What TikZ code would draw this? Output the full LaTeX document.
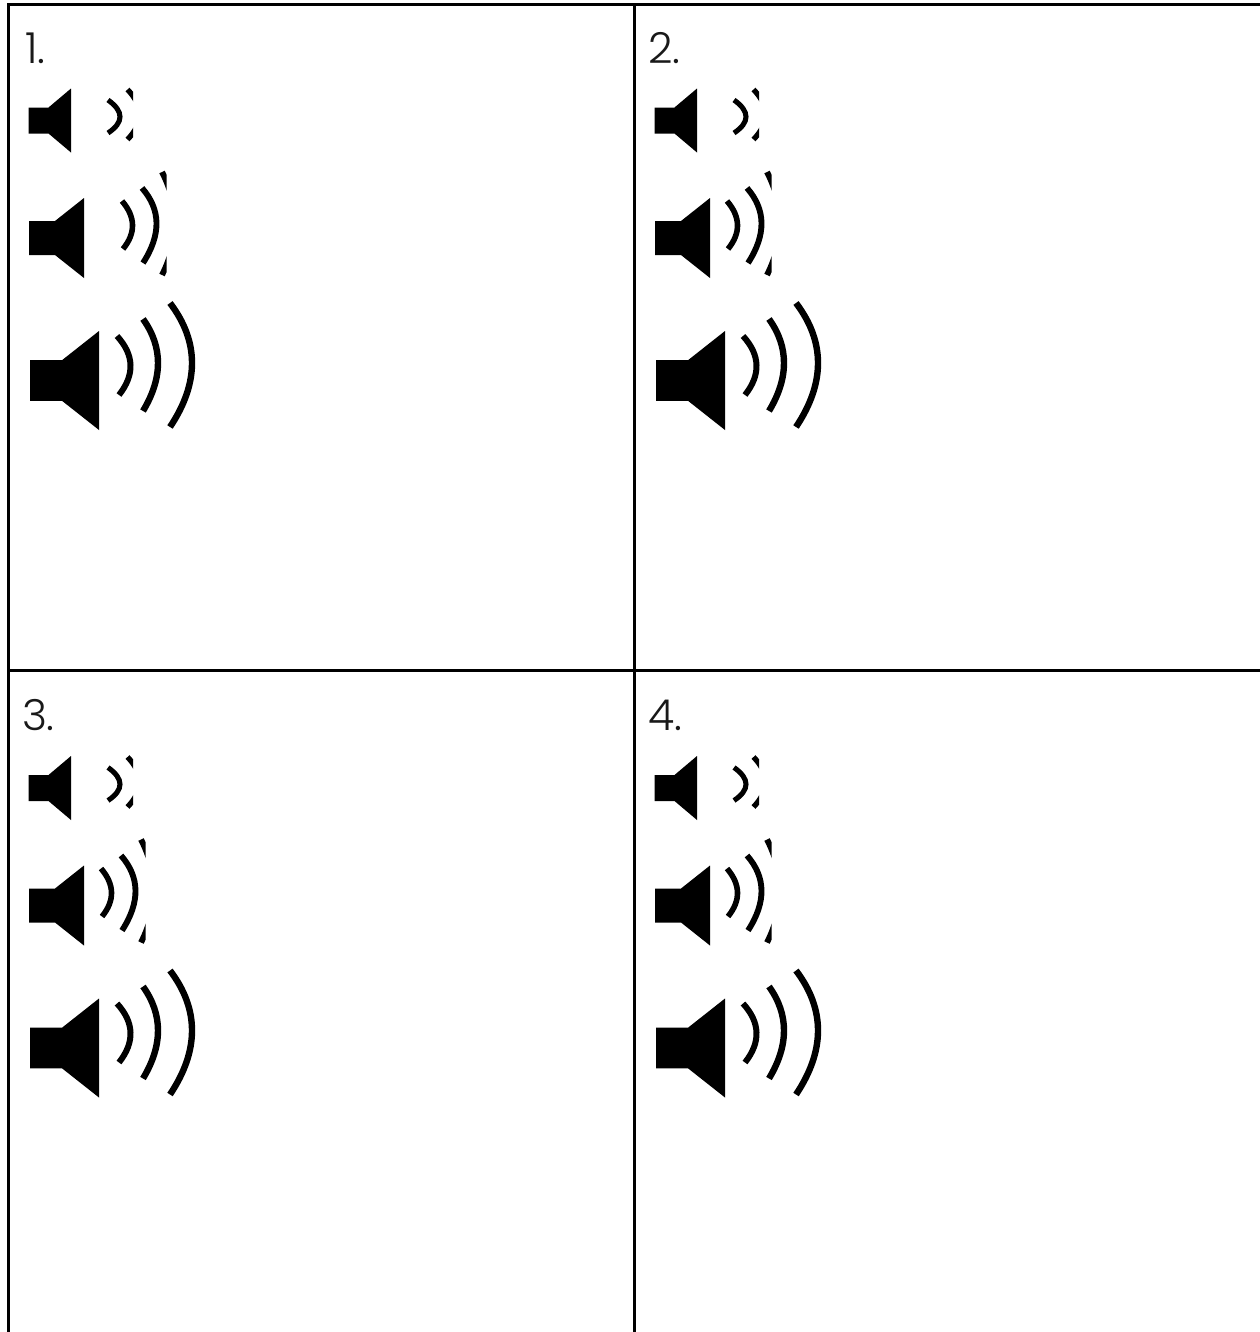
\documentclass[tikz,border=0pt]{standalone}
\usepackage{fontspec}
\usetikzlibrary{calc}
\setmainfont{Poppins}[UprightFont=* Light]
\tikzset{
  px/.style={x=0.75pt,y=-0.75pt},
  gridline/.style={draw=black,line width=2.25pt},
  cone/.style={fill=black,draw=none},
  wave/.style={draw=black,line cap=butt},
  lbl/.style={anchor=base west,inner sep=0pt,outer sep=0pt,font=\fontsize{32}{34}\selectfont,text=black!90}
}
% quadratic curve from A over control C to B, as a cubic
\def\wv(#1)(#2)(#3){(#1) .. controls ($(#1)!0.6667!(#2)$) and ($(#3)!0.6667!(#2)$) .. (#3)}
% small speaker
\newcommand{\spksmall}[2]{%
  \begin{scope}[shift={(#1,#2)}]
    \fill[cone] (0,-13)--(20,-13)--(42.5,-32)--(42.5,32)--(20,13)--(0,13)--cycle;
    \draw[wave,line width=3.8pt] \wv(79.5,-20.5)(103.5,-3.5)(79.5,12.5);
    \begin{scope}
      \clip (90,-40) rectangle (104.5,40);
      \draw[wave,line width=4pt] \wv(99,-31)(123,-6)(99,19);
    \end{scope}
  \end{scope}}
% medium speaker: #3 = horizontal shift of the waves
\newcommand{\spkmedium}[3]{%
  \begin{scope}[shift={(#1,#2)}]
    \fill[cone] (0,-17)--(26,-17)--(55,-40)--(55,40)--(26,17)--(0,17)--cycle;
    \begin{scope}[shift={(#3,0)}]
      \draw[wave,line width=4.2pt] \wv(93,-37)(113.5,-13)(94,11);
      \draw[wave,line width=4.4pt] \wv(113,-50)(141.5,-17.5)(114,25);
      \begin{scope}
        \clip (120,-80) rectangle (137.5,60);
        \draw[wave,line width=4.4pt] \wv(133,-66)(159,-15)(133,37);
      \end{scope}
    \end{scope}
  \end{scope}}
% large speaker
\newcommand{\spklarge}[2]{%
  \begin{scope}[shift={(#1,#2)}]
    \fill[cone] (0,-20.3)--(32,-20.3)--(69,-49.5)--(69,49.5)--(32,20.3)--(0,20.3)--cycle;
    \draw[wave,line width=4.5pt] \wv(87,-44.5)(113,-16)(89,14.5);
    \draw[wave,line width=4.8pt] \wv(113,-61.5)(143,-19.5)(113,30.5);
    \draw[wave,line width=4.8pt] \wv(140,-77.5)(184,-19.5)(140,46.5);
  \end{scope}}
\begin{document}
\begin{tikzpicture}[px]
  \useasboundingbox (0,0) rectangle (1260,1332);
  % grid
  \draw[gridline] (8,1332) -- (8,4) -- (1260,4);
  \draw[gridline] (634.5,4) -- (634.5,1332);
  \draw[gridline] (8,670) -- (1260,670);
  % labels
  \node[lbl] (n1) at (25,63) {1.};
  \node[lbl] (n2) at (648,63) {2.};
  \node[lbl] (n3) at (22,730) {3.};
  \node[lbl] (n4) at (648,730) {4.};
  % cell 1
  \spksmall{28.5}{120.5}\spkmedium{29}{238}{0}\spklarge{30}{380.5}
  % cell 2
  \spksmall{654.5}{120.5}\spkmedium{655}{238}{-21}\spklarge{656}{380.5}
  % cell 3
  \spksmall{28.5}{788}\spkmedium{29}{905.5}{-21}\spklarge{30}{1048}
  % cell 4
  \spksmall{654.5}{788}\spkmedium{655}{905.5}{-21}\spklarge{656}{1048}
\end{tikzpicture}
\end{document}
